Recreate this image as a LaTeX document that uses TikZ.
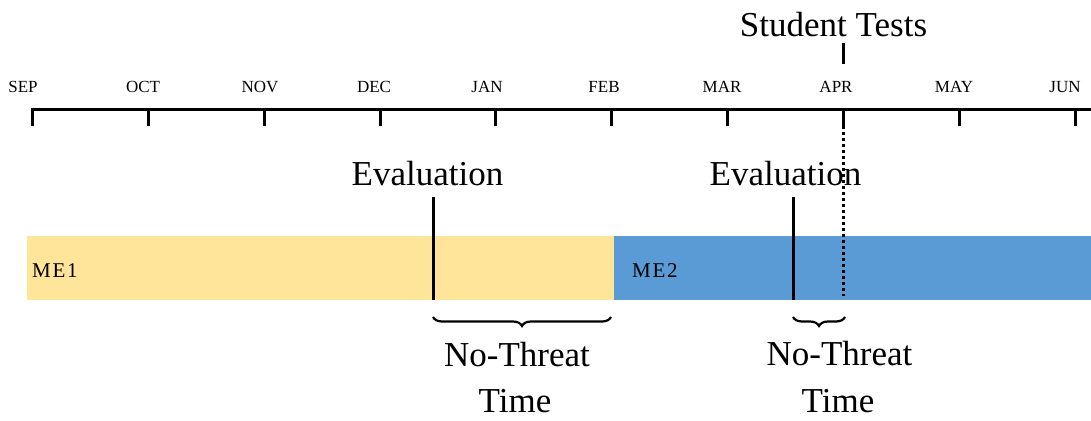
\documentclass[tikz,border=0pt]{standalone}
\usepackage{fontspec}
\setmainfont{Liberation Serif}
\newfontfamily\mefont[LetterSpace=8]{Liberation Serif}
\usetikzlibrary{decorations.pathreplacing}
\definecolor{meyellow}{HTML}{FFE599}
\definecolor{meblue}{HTML}{5B9BD5}
\begin{document}
\begin{tikzpicture}[x=1pt,y=-1pt,
  month/.style={anchor=base, font=\fontsize{17}{17}\selectfont, inner sep=0pt},
  big/.style={anchor=base, font=\fontsize{35}{48}\selectfont, inner sep=0pt},
  melabel/.style={anchor=base west, font=\mefont\fontsize{21}{21}\selectfont, inner sep=0pt},
  axis/.style={line width=3pt},
  mark line/.style={line width=3pt},
  dotline/.style={line width=3pt, dash pattern=on 3pt off 3pt},
  bracestyle/.style={line width=2.2pt, decorate, decoration={brace, mirror, amplitude=9pt}}]
\useasboundingbox (0,0) rectangle (1091,420);
% bars
\fill[meyellow] (27,236) rectangle (614,300);
\fill[meblue] (614,236) rectangle (1091,300);
\node[melabel] (me1) at (32,277) {ME1};
\node[melabel] (me2) at (632,277) {ME2};
% axis
\coordinate (axL) at (30.5,109);
\coordinate (axR) at (1091,109);
\draw[axis] (axL) -- (axR);
\foreach \x/\n in {32/1,148/2,264/3,380/4,495/5,611/6,727/7,843/8,959/9,1075/10}{
  \coordinate (top\n) at (\x,109);
  \coordinate (bot\n) at (\x,126);
  \draw[axis] (top\n) -- (bot\n);
}
\node[month] (sep) at (23,92) {SEP};
\node[month] (oct) at (143,92) {OCT};
\node[month] (nov) at (260,92) {NOV};
\node[month] (dec) at (374,92) {DEC};
\node[month] (jan) at (487,92) {JAN};
\node[month] (feb) at (604,92) {FEB};
\node[month] (mar) at (722,92) {MAR};
\node[month] (apr) at (836,92) {APR};
\node[month] (may) at (954,92) {MAY};
\node[month] (jun) at (1065,92) {JUN};
% student tests
\node[big] (st) at (833.5,37) {Student Tests};
\coordinate (stA) at (843,43);
\coordinate (stB) at (843,64);
\draw[mark line] (stA) -- (stB);
\coordinate (dotA) at (843,126);
\coordinate (dotB) at (843,296);
\draw[dotline] (dotA) -- (dotB);
% evaluations
\node[big] (ev1) at (427.5,185) {Evaluation};
\node[big] (ev2) at (785.5,185) {Evaluation};
\coordinate (e1t) at (433,197);
\coordinate (e1b) at (433,300);
\coordinate (e2t) at (793,197);
\coordinate (e2b) at (793,300);
\draw[mark line] (e1t) -- (e1b);
\draw[mark line] (e2t) -- (e2b);
% braces
\coordinate (b1L) at (433,317);
\coordinate (b1R) at (611,317);
\coordinate (b2L) at (793,317);
\coordinate (b2R) at (845,317);
\draw[bracestyle] (b1L) -- (b1R);
\draw[bracestyle] (b2L) -- (b2R);
\node[big] (nt1) at (517,366) {No-Threat};
\node[big] (tm1) at (515,412) {Time};
\node[big] (nt2) at (839.5,365) {No-Threat};
\node[big] (tm2) at (838,412) {Time};
\end{tikzpicture}
\end{document}
